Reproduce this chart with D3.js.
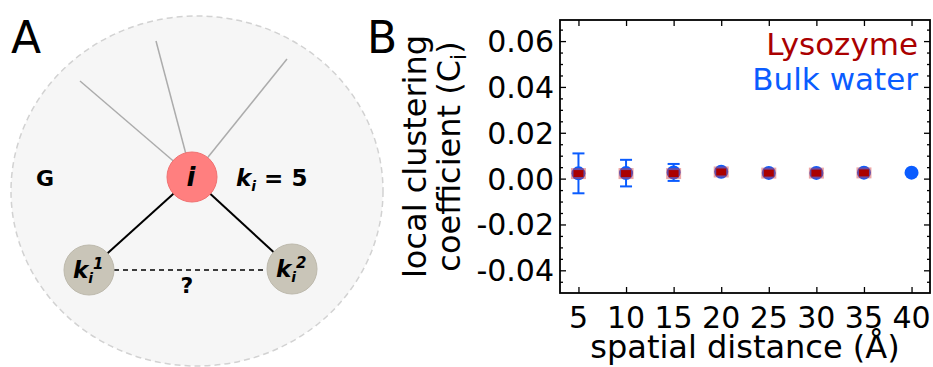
<!DOCTYPE html>
<html>
<head>
<meta charset="utf-8">
<script src="https://cdn.jsdelivr.net/npm/d3@7"></script>
<style>
  body { margin: 0; background: #fff; }
  svg { display: block; font-family: "DejaVu Sans", sans-serif; }
</style>
</head>
<body>
<svg id="fig" width="933" height="367"></svg>
<script>
// panel B data
var distances = [5, 10, 15, 20, 25, 30, 35, 40];
var bulkMean = [0.0023, 0.0024, 0.0027, 0.0030, 0.0025, 0.0025, 0.0026, 0.0026];
var bulkErr = [0.0087, 0.0058, 0.0037, 0.0012, 0.0006, 0.0005, 0.0005, 0.0004];
var lysoDistances = [5, 10, 15, 20, 25, 30, 35];
var lysoMean = [0.0022, 0.0022, 0.0022, 0.0029, 0.0024, 0.0024, 0.0025];
var yTicks = [-0.04, -0.02, 0.00, 0.02, 0.04, 0.06];
var legendNames = ["Lysozyme", "Bulk water"];

var red = "#aa0000", blue = "#0a5cff";
var svg = d3.select("#fig");

// ---------- panel A: network sketch ----------
var gA = svg.append("g");
gA.append("ellipse")
  .attr("cx", 197).attr("cy", 191).attr("rx", 186).attr("ry", 175)
  .style("fill", "#f6f6f6").style("stroke", "#d2d2d2")
  .style("stroke-width", 1.5).style("stroke-dasharray", "6,4");

var hub = {x: 192, y: 177};
var outer = [[80, 81], [156, 41], [287, 59]];
gA.selectAll(".spoke").data(outer).enter().append("line")
  .attr("x1", hub.x).attr("y1", hub.y)
  .attr("x2", function(d) { return d[0]; })
  .attr("y2", function(d) { return d[1]; })
  .style("stroke", "#acacac").style("stroke-width", 1.5);

var nbrs = [{x: 89, y: 270, sup: "1"}, {x: 292, y: 269, sup: "2"}];
gA.selectAll(".edge").data(nbrs).enter().append("line")
  .attr("x1", hub.x).attr("y1", hub.y)
  .attr("x2", function(d) { return d.x; })
  .attr("y2", function(d) { return d.y; })
  .style("stroke", "#000").style("stroke-width", 2);
gA.append("line")
  .attr("x1", 114).attr("y1", 270).attr("x2", 267).attr("y2", 270)
  .style("stroke", "#000").style("stroke-width", 1.5)
  .style("stroke-dasharray", "5,4");

gA.append("circle").attr("cx", hub.x).attr("cy", hub.y).attr("r", 25)
  .style("fill", "#ff7f7f").style("stroke", "#f07070");
gA.append("text").attr("x", hub.x - 1).attr("y", hub.y + 9)
  .attr("text-anchor", "middle")
  .style("font-size", "26px").style("font-weight", "bold").style("font-style", "italic")
  .text("i");

gA.selectAll(".nb").data(nbrs).enter().append("circle")
  .attr("cx", function(d) { return d.x; }).attr("cy", function(d) { return d.y; })
  .attr("r", 25).style("fill", "#c9c5b8").style("stroke", "#bdb9ac");
var nbText = gA.selectAll(".nbt").data(nbrs).enter().append("text")
  .attr("x", function(d) { return d.x - 16; }).attr("y", function(d) { return d.y + 8; })
  .style("font-size", "23px").style("font-weight", "bold").style("font-style", "italic");
nbText.append("tspan").text("k");
nbText.append("tspan").attr("dy", 5).style("font-size", "14px").text("i");
nbText.append("tspan").attr("dy", -14).style("font-size", "15px")
  .text(function(d) { return d.sup; });

gA.append("text").attr("x", 187).attr("y", 293).attr("text-anchor", "middle")
  .style("font-size", "22px").style("font-weight", "bold").text("?");
gA.append("text").attr("x", 45).attr("y", 186).attr("text-anchor", "middle")
  .style("font-size", "22px").style("font-weight", "bold").text("G");
var kt = gA.append("text").attr("x", 236).attr("y", 186)
  .style("font-size", "23px").style("font-weight", "bold");
kt.append("tspan").style("font-style", "italic").text("k");
kt.append("tspan").attr("dy", 5).style("font-size", "14px").style("font-style", "italic").text("i");
kt.append("tspan").attr("dy", -5).text(" = 5");

svg.append("text").attr("x", 11).attr("y", 53)
  .style("font-size", "44px").text("A");
svg.append("text").attr("x", 367).attr("y", 53)
  .style("font-size", "44px").text("B");

// ---------- panel B: scatter with error bars ----------
var plotL = 560, plotR = 930, plotT = 20, plotB = 293;
var x = d3.scaleLinear().domain([3.06, 41.94]).range([plotL, plotR]);
var y = d3.scaleLinear().domain([-0.0499, 0.0692]).range([plotB, plotT]);
var fmt = function(d) { return d3.format(".2f")(d).replace("\u2212", "-"); };
var minorY = d3.range(-9, 14).map(function(k) { return k * 0.005; })
  .filter(function(v, i) { return (i + 9) % 4 !== 0 && (i % 4 !== 1); });
minorY = d3.range(-9, 14).filter(function(k) { return k % 4 !== 0; })
  .map(function(k) { return k * 0.005; });

var gB = svg.append("g");
function tickStyle(sel) {
  sel.selectAll("path").remove();
  sel.selectAll("line").style("stroke", "#000").style("stroke-width", 1.3);
}
// ticks point inward on all four sides
gB.append("g").attr("transform", "translate(" + plotL + ",0)")
  .call(d3.axisRight(y).tickValues(yTicks).tickSize(6).tickFormat(""))
  .call(tickStyle);
gB.append("g").attr("transform", "translate(" + plotL + ",0)")
  .call(d3.axisRight(y).tickValues(minorY).tickSize(3).tickFormat(""))
  .call(tickStyle);
gB.append("g").attr("transform", "translate(" + plotR + ",0)")
  .call(d3.axisLeft(y).tickValues(yTicks).tickSize(6).tickFormat(""))
  .call(tickStyle);
gB.append("g").attr("transform", "translate(" + plotR + ",0)")
  .call(d3.axisLeft(y).tickValues(minorY).tickSize(3).tickFormat(""))
  .call(tickStyle);
gB.append("g").attr("transform", "translate(0," + plotB + ")")
  .call(d3.axisTop(x).tickValues(distances).tickSize(6).tickFormat(""))
  .call(tickStyle);
gB.append("g").attr("transform", "translate(0," + plotT + ")")
  .call(d3.axisBottom(x).tickValues(distances).tickSize(6).tickFormat(""))
  .call(tickStyle);

gB.append("rect").attr("x", plotL).attr("y", plotT)
  .attr("width", plotR - plotL).attr("height", plotB - plotT)
  .style("fill", "none").style("stroke", "#000").style("stroke-width", 1.8);

// tick labels
gB.selectAll(".ylab").data(yTicks).enter().append("text")
  .attr("x", plotL - 6).attr("y", function(d) { return y(d) + 11; })
  .attr("text-anchor", "end").style("font-size", "30px")
  .text(fmt);
gB.selectAll(".xlab").data(distances).enter().append("text")
  .attr("x", function(d) { return x(d); }).attr("y", 328)
  .attr("text-anchor", "middle").style("font-size", "30px")
  .text(function(d) { return d; });

gB.append("text").attr("x", (plotL + plotR) / 2).attr("y", 358)
  .attr("text-anchor", "middle").style("font-size", "32px")
  .text("spatial distance (\u00c5)");
var ylab = gB.append("text")
  .attr("transform", "translate(426," + ((plotT + plotB) / 2) + ") rotate(-90)")
  .attr("text-anchor", "middle").style("font-size", "32px");
ylab.append("tspan").attr("x", 0).attr("y", 0).text("local clustering");
var l2 = ylab.append("tspan").attr("x", 0).attr("y", 34).text("coefficient (C");
ylab.append("tspan").attr("dy", 6).style("font-size", "22px").text("i");
ylab.append("tspan").attr("dy", -6).text(")");

// bulk water: error bars then circles
var bulk = distances.map(function(d, i) { return {x: d, m: bulkMean[i], e: bulkErr[i]}; });
var eb = gB.selectAll(".eb").data(bulk).enter().append("g")
  .style("stroke", blue).style("stroke-width", 2);
eb.append("line")
  .attr("x1", function(d) { return x(d.x); }).attr("x2", function(d) { return x(d.x); })
  .attr("y1", function(d) { return y(d.m - d.e); }).attr("y2", function(d) { return y(d.m + d.e); });
eb.append("line")
  .attr("x1", function(d) { return x(d.x) - 6; }).attr("x2", function(d) { return x(d.x) + 6; })
  .attr("y1", function(d) { return y(d.m + d.e); }).attr("y2", function(d) { return y(d.m + d.e); });
eb.append("line")
  .attr("x1", function(d) { return x(d.x) - 6; }).attr("x2", function(d) { return x(d.x) + 6; })
  .attr("y1", function(d) { return y(d.m - d.e); }).attr("y2", function(d) { return y(d.m - d.e); });
gB.selectAll(".bw").data(bulk).enter().append("circle")
  .attr("cx", function(d) { return x(d.x); }).attr("cy", function(d) { return y(d.m); })
  .attr("r", 7).style("fill", blue);

// lysozyme: translucent square with dark core
var lyso = lysoDistances.map(function(d, i) { return {x: d, m: lysoMean[i]}; });
gB.selectAll(".lq").data(lyso).enter().append("rect")
  .attr("x", function(d) { return x(d.x) - 7.5; }).attr("y", function(d) { return y(d.m) - 5.5; })
  .attr("width", 15).attr("height", 11)
  .style("fill", "rgba(215,60,60,0.45)");
gB.selectAll(".lc").data(lyso).enter().append("rect")
  .attr("x", function(d) { return x(d.x) - 5; }).attr("y", function(d) { return y(d.m) - 3.5; })
  .attr("width", 10).attr("height", 7)
  .style("fill", red);

// legend text
gB.selectAll(".leg").data(legendNames).enter().append("text")
  .attr("x", 918).attr("y", function(d, i) { return 55 + i * 35; })
  .attr("text-anchor", "end").style("font-size", "31px")
  .style("fill", function(d, i) { return i === 0 ? red : blue; })
  .text(function(d) { return d; });
</script>
</body>
</html>
